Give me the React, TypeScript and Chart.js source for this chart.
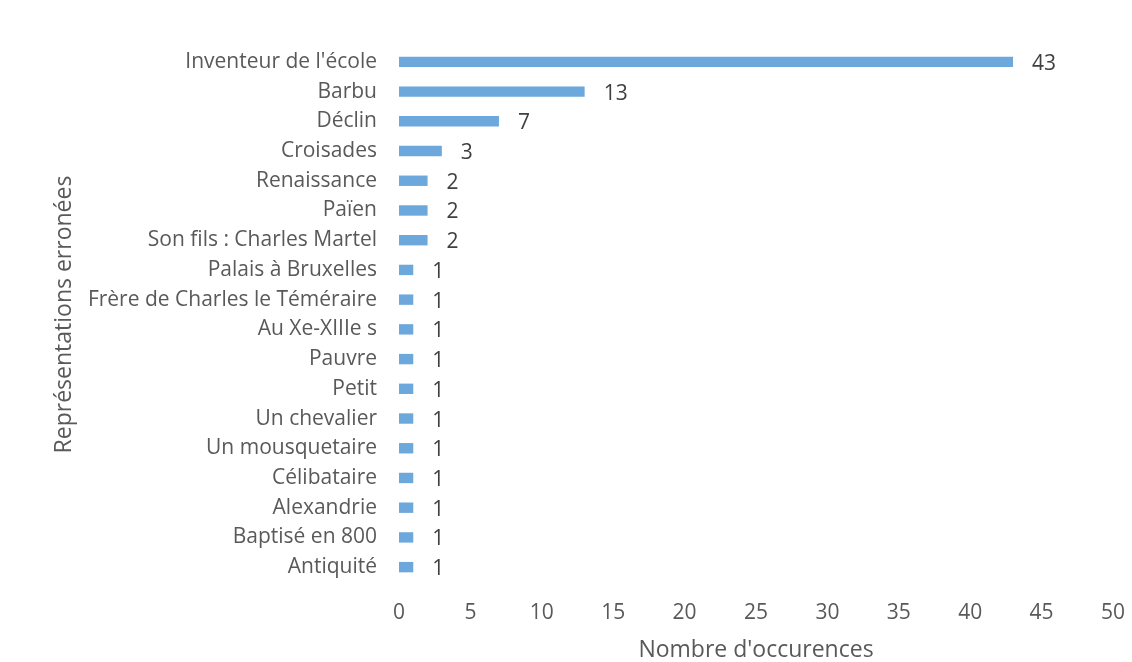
import React, { useEffect, useRef } from "react";
import { Chart, registerables } from "chart.js";

Chart.register(...registerables);

const categories = [
  "Inventeur de l'école",
  "Barbu",
  "Déclin",
  "Croisades",
  "Renaissance",
  "Païen",
  "Son fils : Charles Martel",
  "Palais à Bruxelles",
  "Frère de Charles le Téméraire",
  "Au Xe-XIIIe s",
  "Pauvre",
  "Petit",
  "Un chevalier",
  "Un mousquetaire",
  "Célibataire",
  "Alexandrie",
  "Baptisé en 800",
  "Antiquité",
];
const occurrences = [43, 13, 7, 3, 2, 2, 2, 1, 1, 1, 1, 1, 1, 1, 1, 1, 1, 1];
const xTicks = [0, 5, 10, 15, 20, 25, 30, 35, 40, 45, 50];
const xTitle = "Nombre d'occurences";
const yTitle = "Représentations erronées";

const FONT = "'Open Sans', 'DejaVu Sans', sans-serif";

const valueLabels = {
  id: "valueLabels",
  afterDatasetsDraw(chart: any) {
    const ctx = chart.ctx;
    const meta = chart.getDatasetMeta(0);
    ctx.save();
    ctx.font = `21px ${FONT}`;
    ctx.fillStyle = "#404040";
    ctx.textAlign = "left";
    ctx.textBaseline = "middle";
    meta.data.forEach((el: any, i: number) => {
      const v = chart.data.datasets[0].data[i];
      ctx.fillText(String(v), el.x + 19, el.y + 2);
    });
    ctx.restore();
  },
};

export default function App() {
  const ref = useRef<HTMLCanvasElement>(null);
  useEffect(() => {
    document.body.style.margin = "0";
    const chart = new Chart(ref.current!, {
      type: "bar",
      data: {
        labels: categories,
        datasets: [
          {
            data: occurrences,
            backgroundColor: "#6CA8DC",
            categoryPercentage: 1,
            barPercentage: 0.35,
          },
        ],
      },
      options: {
        indexAxis: "y",
        animation: false,
        responsive: false,
        layout: { padding: { top: 47, right: 19, left: 0, bottom: 0 } },
        plugins: { legend: { display: false }, tooltip: { enabled: false } },
        scales: {
          x: {
            min: 0,
            max: 50,
            afterBuildTicks: (scale: any) => {
              scale.ticks = xTicks.map((v) => ({ value: v }));
            },
            afterFit: (scale: any) => {
              scale.height = 80;
              scale.paddingRight = 0;
              scale.paddingLeft = 0;
            },
            grid: { display: false, drawTicks: false },
            border: { display: false },
            ticks: { color: "#595959", font: { family: FONT, size: 21 }, padding: 18 },
            title: {
              display: true,
              text: xTitle,
              color: "#595959",
              font: { family: FONT, size: 23, lineHeight: 1.0 },
              padding: { top: 0, bottom: 0 },
            },
          },
          y: {
            afterFit: (scale: any) => {
              scale.width = 399;
            },
            grid: { display: false, drawTicks: false },
            border: { display: false },
            ticks: { color: "#595959", font: { family: FONT, size: 21 }, padding: 22 },
            title: {
              display: true,
              text: yTitle,
              color: "#595959",
              font: { family: FONT, size: 23 },
              padding: { top: 51, bottom: 0 },
            },
          },
        },
      },
      plugins: [valueLabels],
    });
    return () => chart.destroy();
  }, []);
  return (
    <div style={{ width: 1132, height: 662 }}>
      <canvas ref={ref} width={1132} height={662} style={{ width: 1132, height: 662 }} />
    </div>
  );
}
